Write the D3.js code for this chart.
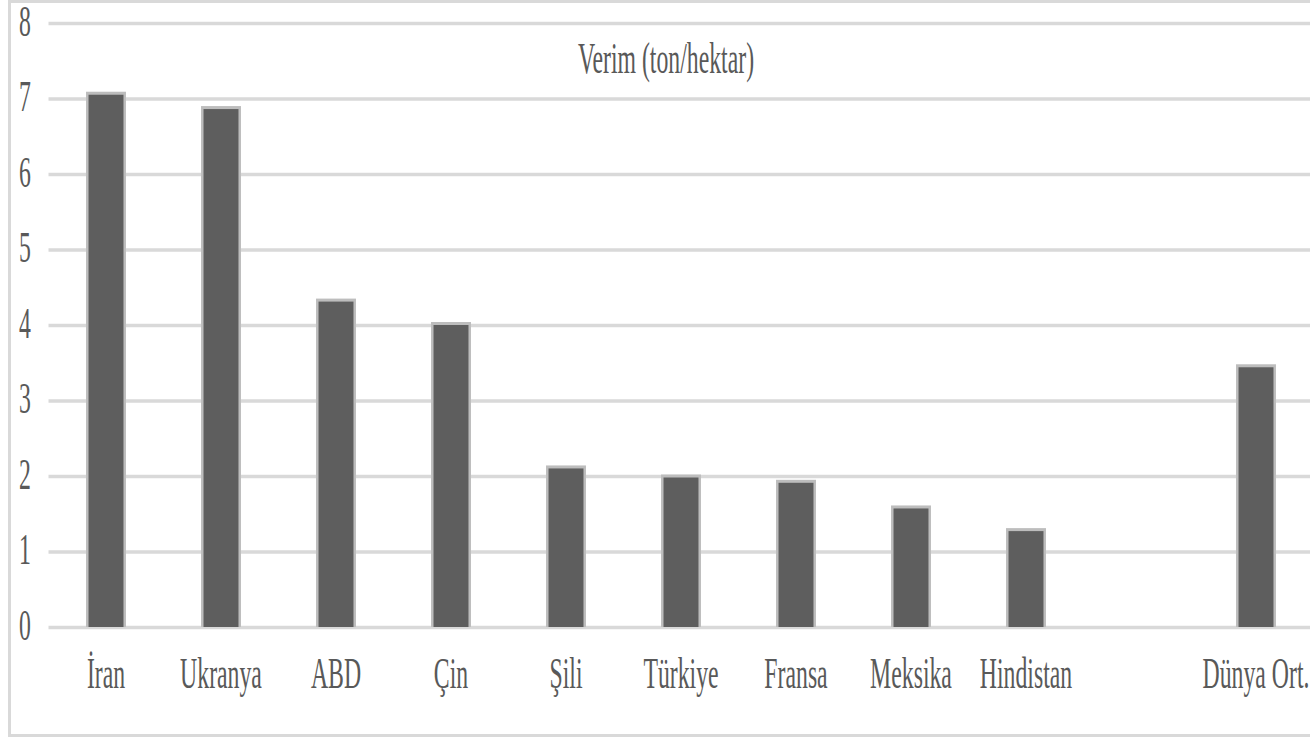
<!DOCTYPE html>
<html lang="tr">
<head>
  <meta charset="UTF-8">
  <title>Verim (ton/hektar)</title>
  <style>
    body, html {
      margin: 0;
      padding: 0;
      background-color: white;
    }
    text {
      font-family: 'Liberation Serif', 'Times New Roman', serif;
      fill: #595959;
    }
  </style>
</head>
<body>
  <svg id="svg" width="1310" height="738"></svg>
  <script src="https://d3js.org/d3.v7.min.js"></script>
  <script>
    // chart data
    const categories = ['İran', 'Ukranya', 'ABD', 'Çin', 'Şili', 'Türkiye', 'Fransa', 'Meksika', 'Hindistan', '', 'Dünya Ort.']
    const yields = [7.05, 6.86, 4.31, 4.0, 2.1, 1.98, 1.91, 1.57, 1.27, null, 3.44]
    const yTicks = [0, 1, 2, 3, 4, 5, 6, 7, 8]
    const title = 'Verim (ton/hektar)'

    const width = 1310
    const height = 738
    const plotLeft = 48.5
    const plotRight = 1313.5
    const plotTop = 23
    const plotBottom = 627
    const squeeze = 0.54   // text in the picture is narrow and tall
    const fontSize = 44

    const svg = d3.select('#svg')

    svg.append('rect')
      .attr('x', 9.5)
      .attr('y', 1.5)
      .attr('width', width + 10)
      .attr('height', height - 4)
      .attr('fill', 'white')
      .attr('stroke', '#d9d9d9')
      .attr('stroke-width', 3)

    const xScale = d3.scaleBand()
      .domain(categories)
      .range([plotLeft, plotRight])
      .paddingInner(0.696)
      .paddingOuter(0.348)

    const yScale = d3.scaleLinear()
      .domain([0, 8])
      .range([plotBottom, plotTop])

    // gridlines + y labels
    const leftAxis = d3.axisLeft(yScale)
      .tickValues(yTicks)
      .tickSize(-(width - plotLeft))
      .tickFormat(d3.format('d'))

    const yAxis = svg.append('g')
      .attr('transform', `translate(${plotLeft}, 0)`)
      .call(leftAxis)
    yAxis.select('.domain').remove()
    yAxis.selectAll('line')
      .attr('stroke', '#d9d9d9')
      .attr('stroke-width', 3.5)
    yAxis.selectAll('text')
      .attr('x', null)
      .attr('dy', null)
      .attr('text-anchor', 'middle')
      .attr('transform', `translate(${25 - plotLeft}, 12) scale(${squeeze}, 1)`)
      .style('font-size', fontSize + 'px')
      .style('font-family', "'Liberation Serif', serif")
      .attr('fill', '#595959')

    const barData = categories
      .map((c, i) => ({ name: c, value: yields[i] }))
      .filter(d => d.value !== null)

    // soft edge round each bar
    svg.selectAll('rect.edge')
      .data(barData)
      .enter()
      .append('rect')
      .attr('class', 'edge')
      .attr('x', d => xScale(d.name) - 2.5)
      .attr('y', d => yScale(d.value) - 3)
      .attr('width', xScale.bandwidth() + 5)
      .attr('height', d => plotBottom - yScale(d.value) + 3)
      .attr('fill', '#bdbdbd')

    svg.selectAll('rect.bar')
      .data(barData)
      .enter()
      .append('rect')
      .attr('class', 'bar')
      .attr('x', d => xScale(d.name))
      .attr('y', d => yScale(d.value))
      .attr('width', xScale.bandwidth())
      .attr('height', d => plotBottom - yScale(d.value))
      .attr('fill', '#5e5e5e')

    // x labels
    svg.append('g')
      .selectAll('text')
      .data(categories)
      .enter()
      .append('text')
      .text(d => d)
      .attr('text-anchor', 'middle')
      .attr('transform', d => `translate(${xScale(d) + xScale.bandwidth() / 2}, 688) scale(${squeeze}, 1)`)
      .style('font-size', fontSize + 'px')

    svg.append('text')
      .text(title)
      .attr('text-anchor', 'middle')
      .attr('transform', `translate(666, 73) scale(${squeeze}, 1)`)
      .style('font-size', fontSize + 'px')
  </script>
</body>
</html>
